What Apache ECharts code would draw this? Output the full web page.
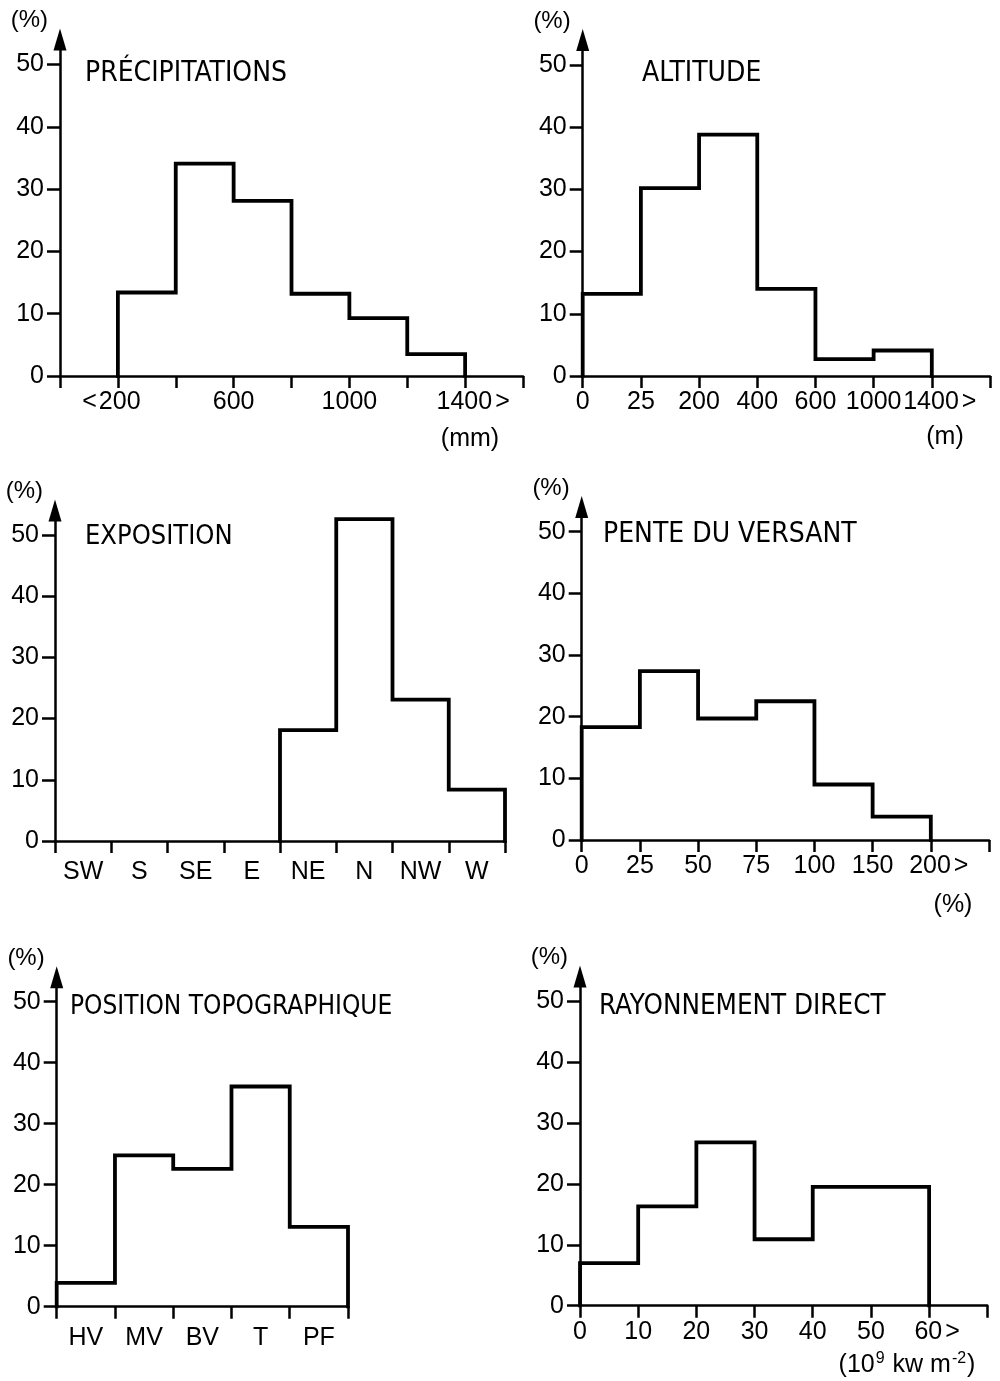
<!DOCTYPE html>
<html>
<head>
<meta charset="utf-8">
<script src="https://cdn.jsdelivr.net/npm/echarts@6/dist/echarts.min.js"></script>
<style>
html, body { margin: 0; padding: 0; background: #fff; }
#chart { width: 1000px; height: 1381px; }
</style>
</head>
<body>
<div id="chart"></div>
<script>
// --- data ---
var precipEdges = [200, 400, 600, 800, 1000, 1200, 1400];
var precipValues = [13.4, 34.1, 28.1, 13.2, 9.3, 3.5];
var precipTickValues = [200, 600, 1000, 1400];
var precipTickLabels = ['<200', '600', '1000', '1400>'];

var altEdgeLabels = ['0', '25', '200', '400', '600', '1000', '1400>'];
var altValues = [13.2, 30.2, 38.8, 14.0, 2.7, 4.1];

var expoCategories = ['SW', 'S', 'SE', 'E', 'NE', 'N', 'NW', 'W'];
var expoValues = [0, 0, 0, 0, 18.1, 52.6, 23.1, 8.4];

var penteEdgeLabels = ['0', '25', '50', '75', '100', '150', '200>'];
var penteValues = [18.3, 27.4, 19.7, 22.5, 9.0, 3.8];

var topoCategories = ['HV', 'MV', 'BV', 'T', 'PF'];
var topoValues = [3.9, 24.8, 22.6, 36.1, 13.1];

var rayEdges = [0, 10, 20, 30, 40, 60];
var rayValues = [7.0, 16.3, 26.8, 10.9, 19.5];
var rayTickValues = [0, 10, 20, 30, 40, 50, 60];
var rayTickLabels = ['0', '10', '20', '30', '40', '50', '60>'];

var yTicks = [0, 10, 20, 30, 40, 50];
var yMax = 54;

var titles = ['PRÉCIPITATIONS', 'ALTITUDE', 'EXPOSITION', 'PENTE DU VERSANT', 'POSITION TOPOGRAPHIQUE', 'RAYONNEMENT DIRECT'];

(function() {
    var ink = '#000';
    var labelFont = '"Liberation Sans", Arial, sans-serif';
    var titleFont = '"Liberation Sans Narrow", "DejaVu Sans Condensed", "Liberation Sans", sans-serif';
    var fs = 25;

    function range(n) { var a = []; for (var i = 0; i < n; i++) a.push(i); return a; }

    // outline of a histogram: skip leading empty bins, then walk the steps
    function stepPoints(edges, values) {
        var pts = [];
        var i0 = 0;
        while (i0 < values.length && values[i0] === 0) i0++;
        pts.push([edges[i0], 0]);
        for (var i = i0; i < values.length; i++) {
            pts.push([edges[i], values[i]]);
            pts.push([edges[i + 1], values[i]]);
        }
        pts.push([edges[values.length], 0]);
        return pts;
    }

    // keep the number on the tick, push the < or > to the side
    function edgeLabel(t) {
        if (t.charAt(t.length - 1) === '>') return '{n|' + t.slice(0, -1) + '}{g|>}';
        if (t.charAt(0) === '<') return '{g|<}{m|' + t.slice(1) + '}';
        return t;
    }
    var rich = {
        n: { fontSize: fs, fontFamily: labelFont, color: ink, padding: [0, 0, 0, 18] },
        m: { fontSize: fs, fontFamily: labelFont, color: ink, padding: [0, 16, 0, 0] },
        g: { fontSize: fs, fontFamily: labelFont, color: ink, padding: [0, 2, 0, 3] }
    };

    var grids = [
        { left: 60, top: 39.6, width: 463, height: 336.4 },
        { left: 582.7, top: 40.1, width: 407.3, height: 335.9 },
        { left: 55, top: 510.5, width: 450, height: 330.5 },
        { left: 581.7, top: 507, width: 407.3, height: 333 },
        { left: 56.7, top: 977.3, width: 291.3, height: 329.4 },
        { left: 580, top: 976.6, width: 407.3, height: 329.1 }
    ];

    var axisLine = { lineStyle: { color: ink, width: 2.5 } };
    var axisTick = { length: 12, lineStyle: { color: ink, width: 2.5 } };

    function xAxis(i, min, max, interval, labelValues, formatter, margin) {
        return {
            type: 'value', gridIndex: i, min: min, max: max, interval: interval,
            axisLine: axisLine, axisTick: axisTick, splitLine: { show: false },
            axisLabel: {
                customValues: labelValues, formatter: formatter, margin: margin || 14,
                color: ink, fontSize: fs, fontFamily: labelFont, rich: rich
            }
        };
    }

    function yAxis(i) {
        return {
            type: 'value', gridIndex: i, min: 0, max: yMax,
            name: '(%)', nameLocation: 'end', nameGap: 19,
            nameTextStyle: { color: ink, fontSize: 24, fontFamily: labelFont, align: 'right', verticalAlign: 'middle', padding: [0, 12, 0, 0] },
            axisLine: { lineStyle: { color: ink, width: 2.5 }, symbol: ['none', 'triangle'], symbolSize: [13, 22] },
            axisTick: { length: 13, customValues: yTicks, lineStyle: { color: ink, width: 2.5 } },
            axisLabel: { customValues: yTicks, margin: 16, color: ink, fontSize: fs, fontFamily: labelFont },
            splitLine: { show: false }
        };
    }

    var xAxes = [
        xAxis(0, 0, 1600, 200, precipTickValues, function(v) {
            return edgeLabel(precipTickLabels[precipTickValues.indexOf(v)] || '');
        }),
        xAxis(1, 0, 7, 1, range(altEdgeLabels.length), function(v) { return edgeLabel(altEdgeLabels[v] || ''); }),
        xAxis(2, 0, expoCategories.length, 1, range(expoCategories.length).map(function(k) { return k + 0.5; }),
            function(v) { return expoCategories[Math.floor(v)]; }, 19),
        xAxis(3, 0, 7, 1, range(penteEdgeLabels.length), function(v) { return edgeLabel(penteEdgeLabels[v] || ''); }),
        xAxis(4, 0, topoCategories.length, 1, range(topoCategories.length).map(function(k) { return k + 0.5; }),
            function(v) { return topoCategories[Math.floor(v)]; }, 19),
        xAxis(5, 0, 70, 10, rayTickValues, function(v) {
            return edgeLabel(rayTickLabels[rayTickValues.indexOf(v)] || '');
        })
    ];

    var stepData = [
        stepPoints(precipEdges, precipValues),
        stepPoints(range(altValues.length + 1), altValues),
        stepPoints(range(expoValues.length + 1), expoValues),
        stepPoints(range(penteValues.length + 1), penteValues),
        stepPoints(range(topoValues.length + 1), topoValues),
        stepPoints(rayEdges, rayValues)
    ];

    var series = stepData.map(function(d, i) {
        return {
            type: 'line', xAxisIndex: i, yAxisIndex: i, data: d,
            showSymbol: false, symbol: 'none', silent: true,
            lineStyle: { color: ink, width: 3.8, join: 'miter', cap: 'square' }
        };
    });

    var titlePos = [[85, 60], [642, 60], [85, 523], [603, 521], [70, 994], [599, 993]];
    var titleSize = [28, 28, 27, 28, 26, 27.5];
    var title = titles.map(function(t, i) {
        return {
            text: t, left: titlePos[i][0], top: titlePos[i][1], padding: 0,
            textStyle: { color: ink, fontSize: titleSize[i], fontWeight: 'normal', fontFamily: titleFont }
        };
    });

    var units = [['(mm)', 470, 439], ['(m)', 945, 437], ['(%)', 953, 905], ['(10{s|9} kw m{s|-2})', 907, 1365]];
    var graphic = units.map(function(u) {
        return {
            type: 'text', x: u[1], y: u[2],
            style: {
                text: u[0], fill: ink, font: fs + 'px ' + labelFont, textAlign: 'center', textVerticalAlign: 'middle',
                rich: { s: { fontSize: 16, fontFamily: labelFont, fill: ink, verticalAlign: 'top', lineHeight: 28, padding: [0, 1, 0, 1] } }
            }
        };
    });

    var chart = echarts.init(document.getElementById('chart'), null, { renderer: 'canvas' });
    chart.setOption({
        animation: false,
        backgroundColor: '#fff',
        title: title,
        grid: grids,
        xAxis: xAxes,
        yAxis: grids.map(function(g, i) { return yAxis(i); }),
        series: series,
        graphic: graphic
    });
    window.addEventListener('resize', function() { chart.resize(); });
})();
</script>
</body>
</html>
